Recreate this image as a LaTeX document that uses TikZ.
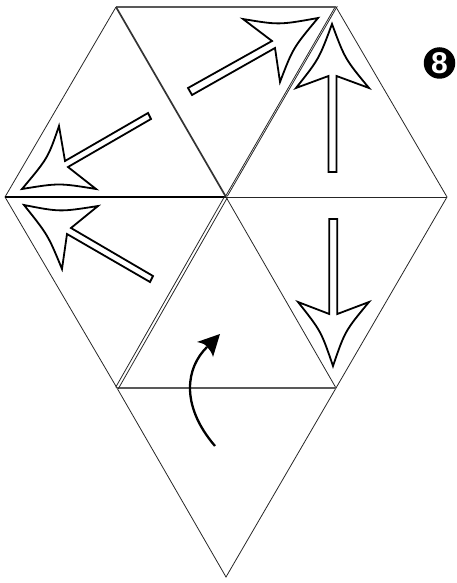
\documentclass[tikz,border=0pt]{standalone}
\usepackage{fontspec}
\setmainfont{Liberation Sans}
\tikzset{
  thinedge/.style={line width=0.8pt,black!85},
  foldedge/.style={line width=1.5pt,black!65},
  boldedge/.style={line width=1.3pt,black},
  arrowline/.style={line width=1.8pt,black,fill=white,line join=miter,miter limit=10},
  turnline/.style={line width=2.3pt,black},
  turnhead/.style={fill=black,draw=none},
  numbadge/.style={circle,fill=black,text=white,inner sep=0pt,minimum size=31.5pt,font=\bfseries\fontsize{30}{30}\selectfont}
}
\begin{document}
\begin{tikzpicture}[x=1pt,y=-1pt]
\useasboundingbox (0,0) rectangle (456,583);
\coordinate (C) at (226,197);
\coordinate (L) at (5,197);
\coordinate (R) at (447,197);
\coordinate (TL) at (116,7);
\coordinate (TR) at (336,7);
\coordinate (BL) at (117,388);
\coordinate (BR) at (336,388);
\coordinate (B) at (226,577);
% outer thin edges
\draw[thinedge] (TR) -- (R) -- (BR);
\draw[thinedge] (TL) -- (L) -- (BL);
\draw[thinedge] (BL) -- (B) -- (BR);
\draw[thinedge] (C) -- (BR);
\draw[thinedge] (C) -- (R);
% thicker edges
\draw[foldedge] (TL) -- (TR);
\draw[foldedge] (BL) -- (BR);
\draw[boldedge] (L) -- (C);
\draw[line width=1.7pt,black!80] (TL) -- (C);
% doubled fold lines
\draw[thinedge,transform canvas={xshift=-1.3pt,yshift=-0.75pt}] (TR) -- (C);
\draw[thinedge,transform canvas={xshift=1.3pt,yshift=0.75pt}] (TR) -- (C);
\draw[thinedge,transform canvas={xshift=-1.3pt,yshift=0.75pt}] (C) -- (BL);
\draw[thinedge,transform canvas={xshift=1.3pt,yshift=-0.75pt}] (C) -- (BL);
% up arrow
\draw[arrowline] (328.5,172) -- (328.5,76) -- (296,88) .. controls (319,59) .. (332,24)
  .. controls (345,59) .. (369,88) -- (336.5,76) -- (336.5,172) -- cycle;
% down arrow
\draw[arrowline] (329.3,219) -- (329.3,314) -- (298,302) .. controls (321,331) .. (333,366)
  .. controls (345,331) .. (369,302) -- (337.3,314) -- (337.3,219) -- cycle;
% north-east arrow
\draw[arrowline] (188,88) -- (272,41) -- (243,19) .. controls (279,25) .. (318,18)
  .. controls (293,48) .. (280,82) -- (275,48) -- (192,95) -- cycle;
% south-west arrow
\draw[arrowline] (148,113) -- (65,161) -- (59,126) .. controls (48,158) .. (22,189)
  .. controls (59,183) .. (96,189) -- (68,167) -- (151,119) -- cycle;
% north-west arrow
\draw[arrowline] (153,276) -- (71,228) -- (98,206) .. controls (60,212) .. (24,205)
  .. controls (48,235) .. (62,269) -- (67,234) -- (150,282) -- cycle;
% turning arrow
\draw[turnline] (215,446) .. controls (197,425) and (190,405) .. (190,388)
  .. controls (190,372) and (196,358) .. (207,347);
\fill[turnhead] (220,334) -- (197,342) .. controls (203,343) and (206,345) .. (207,347)
  .. controls (210,350) and (212,353) .. (213,357) -- cycle;
\node[numbadge] (badge) at (439.5,63) {8};
\end{tikzpicture}
\end{document}
